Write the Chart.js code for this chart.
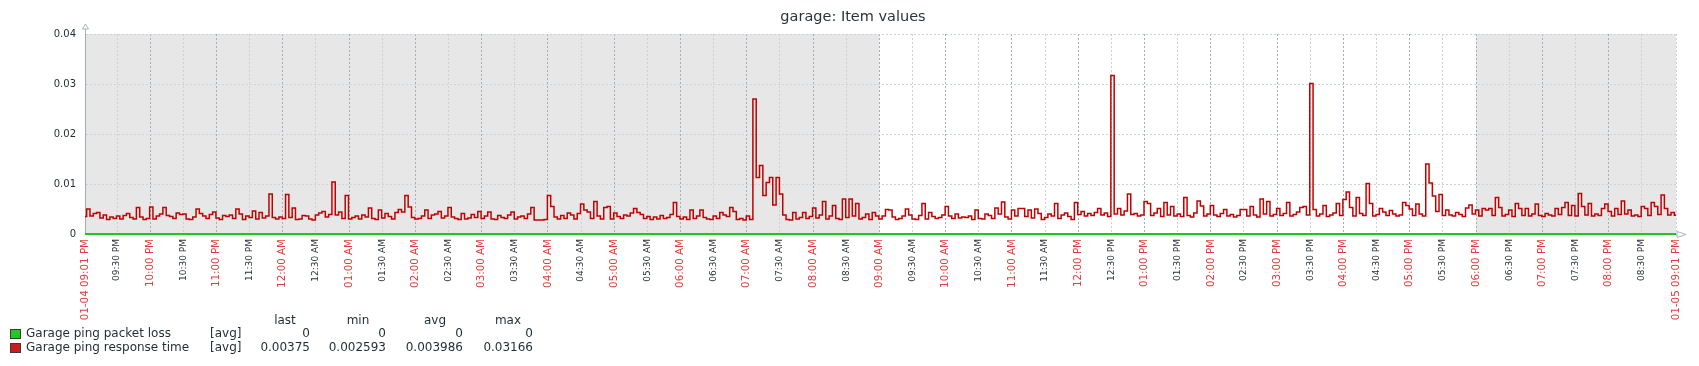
<!DOCTYPE html>
<html>
<head>
<meta charset="utf-8">
<title>garage: Item values</title>
<script src="https://cdn.jsdelivr.net/npm/chart.js@4.4.1/dist/chart.umd.min.js"></script>
<style>
  html, body { margin: 0; padding: 0; background: #fff; }
  #wrap { position: relative; width: 1699px; height: 366px; font-family: 'DejaVu Sans', sans-serif; }
  #wrap canvas { position: absolute; left: 0; top: 0; }
  .lg { position: absolute; font-size: 12px; line-height: 14px; color: #1f2c33; white-space: pre; }
  .sq { position: absolute; box-sizing: border-box; width: 11px; height: 10px; border: 1px solid #3a3a3a; }
  .r { transform: translateX(-100%); }
  .c { transform: translateX(-50%); }
</style>
</head>
<body>
<div id="wrap">
  <canvas id="myChart" width="1699" height="366"></canvas>
  <div id="legend"></div>
</div>
<script>
// response time samples, one every 3 minutes from 01-04 09:01 PM
const STEP = 3
const resp2101 = [
  0.0035, 0.0050, 0.0036, 0.0041, 0.0043, 0.0032, 0.0038, 0.0029, 0.0034, 0.0031,
  0.0036, 0.0030, 0.0037, 0.0041, 0.0033, 0.0030, 0.0053, 0.0034, 0.0029, 0.0031,
  0.0054, 0.0030, 0.0036, 0.0040, 0.0053, 0.0037, 0.0035, 0.0031, 0.0042, 0.0039,
  0.0040, 0.0030, 0.0029, 0.0034, 0.0050, 0.0041, 0.0036, 0.0031, 0.0039, 0.0044,
  0.0032, 0.0029, 0.0037, 0.0035, 0.0038, 0.0031, 0.0050, 0.0040, 0.0029, 0.0036,
  0.0033, 0.0046, 0.0030, 0.0043, 0.0032, 0.0036, 0.0080, 0.0033, 0.0030, 0.0034
]
const resp0001 = [
  0.0031, 0.0079, 0.0033, 0.0052, 0.0029, 0.0030, 0.0037, 0.0036, 0.0030, 0.0028,
  0.0038, 0.0042, 0.0045, 0.0034, 0.0039, 0.0104, 0.0038, 0.0044, 0.0031, 0.0077,
  0.0030, 0.0033, 0.0036, 0.0030, 0.0038, 0.0034, 0.0052, 0.0031, 0.0029, 0.0048,
  0.0032, 0.0041, 0.0035, 0.0030, 0.0043, 0.0049, 0.0044, 0.0077, 0.0054, 0.0033,
  0.0030, 0.0031, 0.0036, 0.0048, 0.0031, 0.0038, 0.0040, 0.0045, 0.0032, 0.0036,
  0.0053, 0.0034, 0.0031, 0.0029, 0.0041, 0.0030, 0.0032, 0.0039, 0.0033, 0.0045
]
const resp0301 = [
  0.0031, 0.0036, 0.0044, 0.0030, 0.0029, 0.0037, 0.0033, 0.0031, 0.0038, 0.0044,
  0.0030, 0.0034, 0.0036, 0.0031, 0.0040, 0.0053, 0.0028, 0.0028, 0.0028, 0.0029,
  0.0077, 0.0055, 0.0034, 0.0030, 0.0037, 0.0031, 0.0042, 0.0038, 0.0030, 0.0041,
  0.0060, 0.0048, 0.0044, 0.0031, 0.0065, 0.0036, 0.0030, 0.0053, 0.0055, 0.0030,
  0.0042, 0.0035, 0.0031, 0.0038, 0.0036, 0.0042, 0.0051, 0.0043, 0.0039, 0.0031,
  0.0035, 0.0029, 0.0034, 0.0030, 0.0037, 0.0031, 0.0033, 0.0039, 0.0063, 0.0035
]
const resp0601 = [
  0.0030, 0.0034, 0.0029, 0.0048, 0.0031, 0.0036, 0.0048, 0.0033, 0.0030, 0.0029,
  0.0036, 0.0031, 0.0043, 0.0038, 0.0035, 0.0053, 0.0045, 0.0029, 0.0031, 0.0028,
  0.0036, 0.0029, 0.0270, 0.0113, 0.0137, 0.0077, 0.0103, 0.0113, 0.0058, 0.0113,
  0.0080, 0.0038, 0.0029, 0.0028, 0.0043, 0.0030, 0.0033, 0.0043, 0.0031, 0.0035,
  0.0052, 0.0032, 0.0038, 0.0065, 0.0030, 0.0036, 0.0057, 0.0031, 0.0029, 0.0070,
  0.0033, 0.0070, 0.0036, 0.0061, 0.0030, 0.0033, 0.0040, 0.0029, 0.0043, 0.0036
]
const resp0901 = [
  0.0030, 0.0036, 0.0049, 0.0048, 0.0034, 0.0029, 0.0031, 0.0036, 0.0050, 0.0038,
  0.0030, 0.0029, 0.0037, 0.0061, 0.0030, 0.0043, 0.0035, 0.0031, 0.0033, 0.0038,
  0.0055, 0.0036, 0.0031, 0.0040, 0.0032, 0.0034, 0.0033, 0.0036, 0.0029, 0.0048,
  0.0031, 0.0030, 0.0040, 0.0037, 0.0031, 0.0052, 0.0040, 0.0064, 0.0034, 0.0030,
  0.0048, 0.0036, 0.0051, 0.0051, 0.0035, 0.0048, 0.0032, 0.0050, 0.0041, 0.0029,
  0.0033, 0.0040, 0.0036, 0.0061, 0.0031, 0.0038, 0.0042, 0.0035, 0.0029, 0.0063
]
const resp1201 = [
  0.0039, 0.0045, 0.0036, 0.0041, 0.0037, 0.0043, 0.0051, 0.0038, 0.0042, 0.0035,
  0.0317, 0.0040, 0.0051, 0.0038, 0.0046, 0.0080, 0.0039, 0.0041, 0.0036, 0.0038,
  0.0065, 0.0061, 0.0037, 0.0042, 0.0051, 0.0035, 0.0063, 0.0038, 0.0055, 0.0036,
  0.0040, 0.0035, 0.0073, 0.0037, 0.0034, 0.0042, 0.0066, 0.0056, 0.0036, 0.0040,
  0.0057, 0.0038, 0.0035, 0.0041, 0.0049, 0.0036, 0.0039, 0.0034, 0.0037, 0.0049,
  0.0049, 0.0036, 0.0055, 0.0038, 0.0034, 0.0070, 0.0040, 0.0065, 0.0036, 0.0039
]
const resp1501 = [
  0.0051, 0.0037, 0.0041, 0.0063, 0.0036, 0.0039, 0.0044, 0.0053, 0.0055, 0.0038,
  0.0301, 0.0049, 0.0036, 0.0040, 0.0057, 0.0035, 0.0038, 0.0042, 0.0061, 0.0037,
  0.0069, 0.0084, 0.0053, 0.0036, 0.0073, 0.0041, 0.0037, 0.0101, 0.0061, 0.0036,
  0.0039, 0.0051, 0.0044, 0.0037, 0.0047, 0.0040, 0.0036, 0.0038, 0.0063, 0.0057,
  0.0050, 0.0037, 0.0060, 0.0040, 0.0036, 0.0140, 0.0102, 0.0076, 0.0045, 0.0079,
  0.0037, 0.0048, 0.0038, 0.0036, 0.0043, 0.0039, 0.0035, 0.0052, 0.0058, 0.0040
]
const resp1801 = [
  0.0048, 0.0036, 0.0051, 0.0048, 0.0051, 0.0037, 0.0073, 0.0053, 0.0036, 0.0039,
  0.0048, 0.0035, 0.0061, 0.0051, 0.0037, 0.0051, 0.0036, 0.0040, 0.0060, 0.0037,
  0.0035, 0.0041, 0.0038, 0.0036, 0.0051, 0.0039, 0.0053, 0.0063, 0.0037, 0.0057,
  0.0036, 0.0081, 0.0055, 0.0038, 0.0061, 0.0036, 0.0040, 0.0037, 0.0051, 0.0060,
  0.0045, 0.0036, 0.0051, 0.0039, 0.0066, 0.0040, 0.0048, 0.0036, 0.0038, 0.0035,
  0.0055, 0.0051, 0.0037, 0.0063, 0.0055, 0.0039, 0.0078, 0.0051, 0.0038, 0.0043
]
const resp2101Last = [0.00375]

// packet loss: flat zero over the whole period
const lossMinutes = [0, 1440]
const lossValues = [0, 0]

// x ticks, every 30 minutes
const xTickLabels = [
  '01-04 09:01 PM',
  '09:30 PM', '10:00 PM', '10:30 PM', '11:00 PM', '11:30 PM',
  '12:00 AM', '12:30 AM', '01:00 AM', '01:30 AM', '02:00 AM', '02:30 AM',
  '03:00 AM', '03:30 AM', '04:00 AM', '04:30 AM', '05:00 AM', '05:30 AM',
  '06:00 AM', '06:30 AM', '07:00 AM', '07:30 AM', '08:00 AM', '08:30 AM',
  '09:00 AM', '09:30 AM', '10:00 AM', '10:30 AM', '11:00 AM', '11:30 AM',
  '12:00 PM', '12:30 PM', '01:00 PM', '01:30 PM', '02:00 PM', '02:30 PM',
  '03:00 PM', '03:30 PM', '04:00 PM', '04:30 PM', '05:00 PM', '05:30 PM',
  '06:00 PM', '06:30 PM', '07:00 PM', '07:30 PM', '08:00 PM', '08:30 PM',
  '01-05 09:01 PM'
]
// outside working time (gray), in minutes from start
const nightRanges = [[0, 719], [1259, 1440]]

// legend
const legendNames = ['Garage ping packet loss', 'Garage ping response time']
const legendColors = ['#22c922', '#cc1c1c']
const statHeaders = ['last', 'min', 'avg', 'max']
const statLast = ['0', '0.00375']
const statMin = ['0', '0.002593']
const statAvg = ['0', '0.003986']
const statMax = ['0', '0.03166']

const FONT = "'DejaVu Sans', sans-serif"
Chart.defaults.font.family = FONT

const respValues = [].concat(resp2101, resp0001, resp0301, resp0601, resp0901, resp1201, resp1501, resp1801, resp2101Last)
const respPoints = respValues.map((v, i) => ({ x: i * STEP, y: v }))
const lossPoints = lossMinutes.map((m, i) => ({ x: m, y: lossValues[i] }))
const lastTick = xTickLabels.length - 1
const xTickMinutes = xTickLabels.map((l, i) => i === 0 ? 0 : (i === lastTick ? 1440 : i * 30 - 1))
const isRed = (i) => {
  const l = xTickLabels[i]
  return !!l && (i === 0 || i === lastTick || l.includes(':00'))
}

const zbxBack = {
  id: 'zbxBack',
  beforeDraw(chart) {
    const { ctx, chartArea: a, scales: { x } } = chart
    ctx.save()
    ctx.fillStyle = '#ffffff'
    ctx.fillRect(a.left, a.top, a.right - a.left, a.bottom - a.top)
    ctx.fillStyle = '#e7e7e7'
    nightRanges.forEach(([s, e]) => {
      const x0 = x.getPixelForValue(s), x1 = x.getPixelForValue(e)
      ctx.fillRect(x0, a.top, x1 - x0, a.bottom - a.top)
    })
    ctx.restore()
  },
  afterDraw(chart) {
    const { ctx, chartArea: a } = chart
    const lx = Math.round(a.left) + 0.5
    const by = Math.round(a.bottom) + 0.5
    ctx.save()
    ctx.strokeStyle = '#a7b3bb'
    ctx.lineWidth = 1
    ctx.beginPath()
    ctx.moveTo(lx, a.top)
    ctx.lineTo(lx, a.top - 5)
    ctx.moveTo(lx - 3, a.top - 5)
    ctx.lineTo(lx + 3, a.top - 5)
    ctx.lineTo(lx, a.top - 10)
    ctx.closePath()
    ctx.moveTo(a.right + 1, by - 3)
    ctx.lineTo(a.right + 1, by + 3)
    ctx.lineTo(a.right + 10, by)
    ctx.closePath()
    ctx.stroke()
    ctx.restore()
  }
}

new Chart(document.getElementById('myChart'), {
  type: 'line',
  data: {
    datasets: [{
      label: legendNames[1],
      data: respPoints,
      borderColor: '#c20000',
      borderWidth: 1.5,
      pointRadius: 0,
      stepped: 'middle',
      tension: 0
    }, {
      label: legendNames[0],
      data: lossPoints,
      borderColor: '#1ec61e',
      borderWidth: 2,
      pointRadius: 0,
      clip: false
    }]
  },
  options: {
    responsive: false,
    animation: false,
    devicePixelRatio: 1,
    // left/right padding picked so the title centres where it does in zabbix
    layout: { padding: { left: 7, right: 0, top: 0, bottom: 0 } },
    plugins: {
      legend: { display: false },
      tooltip: { enabled: false },
      title: {
        display: true,
        text: 'garage: Item values',
        color: '#2b3338',
        font: { size: 14.5, weight: 'normal', family: FONT },
        padding: { top: 9, bottom: 7.6 }
      }
    },
    scales: {
      x: {
        type: 'linear',
        min: 0,
        max: 1440,
        afterFit: (s) => { s.height = 132 },
        afterBuildTicks: (s) => { s.ticks = xTickMinutes.map(v => ({ value: v })) },
        border: { display: true, color: '#9fadb6', dash: [2, 2] },
        grid: {
          drawTicks: false,
          color: (c) => c.index === 0 ? 'rgba(0,0,0,0)' : (c.index !== lastTick && isRed(c.index) ? '#a3afb8' : '#ccd3d8')
        },
        ticks: {
          autoSkip: false,
          minRotation: 90,
          maxRotation: 90,
          padding: 5,
          color: (c) => isRed(c.index) ? '#e53a3a' : '#2a3136',
          font: (c) => ({ size: isRed(c.index) ? 10.3 : 9, family: FONT }),
          callback: (v, i) => xTickLabels[i]
        }
      },
      y: {
        min: 0,
        max: 0.04,
        afterFit: (s) => { s.width = 78 },
        border: { display: true, color: '#9fadb6', dash: [2, 2] },
        grid: {
          drawTicks: false,
          color: (c) => c.index === 0 ? 'rgba(0,0,0,0)' : '#ccd3d8'
        },
        ticks: {
          stepSize: 0.01,
          padding: 9,
          color: '#1f2a30',
          font: { size: 10, family: FONT },
          callback: (v) => v === 0 ? '0' : v.toFixed(2)
        }
      },
      // empty right margin
      yRight: {
        position: 'right',
        min: 0,
        max: 1,
        afterFit: (s) => { s.width = 23 },
        border: { display: false },
        grid: { display: false, drawTicks: false },
        ticks: { display: false }
      }
    }
  },
  plugins: [zbxBack]
})

// legend table under the chart
const lg = document.getElementById('legend')
const put = (text, x, y, cls) => {
  const d = document.createElement('div')
  d.className = 'lg ' + (cls || '')
  d.style.left = x + 'px'
  d.style.top = y + 'px'
  d.textContent = text
  lg.appendChild(d)
}
const headerX = [285, 358, 435, 508]
const valueX = [310, 386, 463, 533]
const rowY = [326, 340]
statHeaders.forEach((h, i) => put(h, headerX[i], 312.5, 'c'))
const stats = [statLast, statMin, statAvg, statMax]
legendNames.forEach((name, r) => {
  const sq = document.createElement('div')
  sq.className = 'sq'
  sq.style.left = '10px'
  sq.style.top = (rowY[r] + 3) + 'px'
  sq.style.background = legendColors[r]
  lg.appendChild(sq)
  put(name, 26, rowY[r])
  put('[avg]', 210, rowY[r])
  stats.forEach((col, c) => put(col[r], valueX[c], rowY[r], 'r'))
})
</script>
</body>
</html>
